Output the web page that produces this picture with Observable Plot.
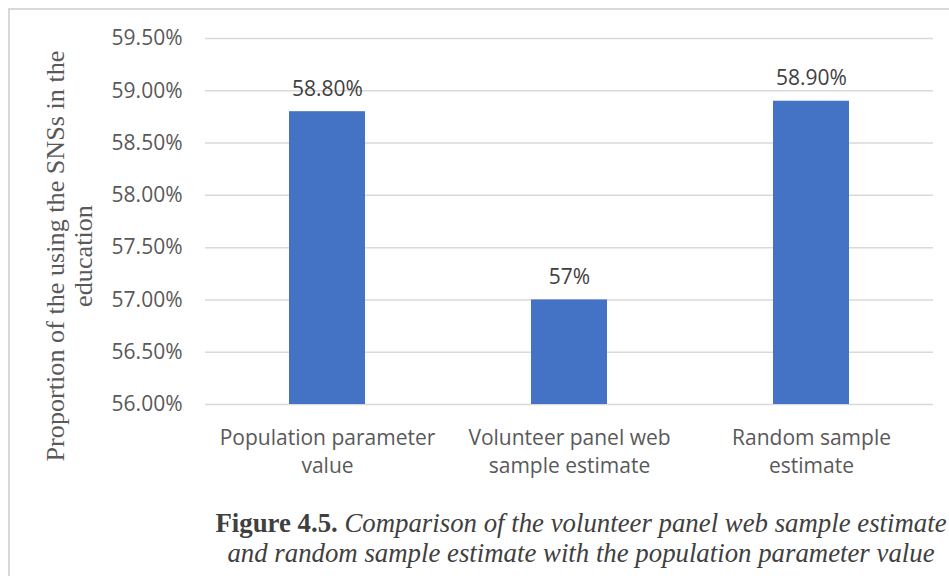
<!DOCTYPE html>
<html>
<head>
<meta charset="utf-8">
<script src="https://cdn.jsdelivr.net/npm/d3@7"></script>
<script src="https://cdn.jsdelivr.net/npm/@observablehq/plot@0.6"></script>
<style>
  html, body { margin: 0; padding: 0; background: #fff; width: 949px; height: 576px; overflow: hidden; }
  #frame { position: absolute; left: 8px; top: 8px; width: 1000px; height: 700px;
           border-top: 2px solid #d9d9d9; border-left: 2px solid #d9d9d9; }
  #chart { position: absolute; left: 0; top: 0; }
  #ytitle { position: absolute; width: 480px; height: 56px; left: -170px; top: 228px;
            transform: rotate(-90deg); transform-origin: 50% 50%;
            font-family: "Liberation Serif", "DejaVu Serif", serif; font-size: 26.2px; line-height: 28px;
            color: #595959; text-align: center; white-space: nowrap; }
  #caption { position: absolute; left: 181px; top: 508px; width: 800px; text-align: center;
             font-family: "Liberation Serif", "DejaVu Serif", serif; font-size: 26.8px; line-height: 30px;
             color: #404040; white-space: nowrap; }
  #caption b { font-weight: bold; }
  #caption i { font-style: italic; }
</style>
</head>
<body>
<div id="frame"></div>
<div id="chart"></div>
<div id="ytitle">Proportion of the using the SNSs in the<br>education</div>
<div id="caption"><b>Figure 4.5.</b> <i>Comparison of the volunteer panel web sample estimate<br>and random sample estimate with the population parameter value</i></div>
<script>
// Categories, their proportions and the printed value labels
const categories = ["Population parameter\nvalue", "Volunteer panel web\nsample estimate", "Random sample\nestimate"];
const values = [0.588, 0.57, 0.589];
const valueLabels = ["58.80%", "57%", "58.90%"];

// Y axis ticks and their labels
const yTicks = [0.56, 0.565, 0.57, 0.575, 0.58, 0.585, 0.59, 0.595];
const yTickLabels = ["56.00%", "56.50%", "57.00%", "57.50%", "58.00%", "58.50%", "59.00%", "59.50%"];

const data = categories.map((c, i) => ({category: c, value: values[i], label: valueLabels[i]}));
const fontSans = "'Open Sans', Lato, sans-serif";

const chart = Plot.plot({
  width: 949,
  height: 490,
  marginLeft: 205,
  marginRight: 16,
  marginTop: 38,
  marginBottom: 86,
  style: {fontFamily: fontSans, background: "transparent", overflow: "visible"},
  x: {domain: categories, paddingInner: 0.687, paddingOuter: 0.3435},
  y: {domain: [yTicks[0], yTicks[yTicks.length - 1]]},
  marks: [
    Plot.gridY(yTicks, {stroke: "#d9d9d9", strokeOpacity: 1, strokeWidth: 1.5}),
    Plot.barY(data, {x: "category", y1: yTicks[0], y2: "value", fill: "#4472C4"}),
    Plot.text(data, {x: "category", y: "value", text: "label", lineAnchor: "bottom", dy: -16,
                     fontSize: 21, fill: "#404040"}),
    Plot.axisY(yTicks, {tickSize: 0, tickPadding: 23, label: null, fontSize: 21, fill: "#595959",
                        tickFormat: d => yTickLabels[yTicks.indexOf(d)]}),
    Plot.axisX({tickSize: 0, tickPadding: 21, label: null, fontSize: 21, fill: "#595959",
                lineHeight: 1.33, lineAnchor: "top"})
  ]
});
document.getElementById("chart").appendChild(chart);
</script>
</body>
</html>
